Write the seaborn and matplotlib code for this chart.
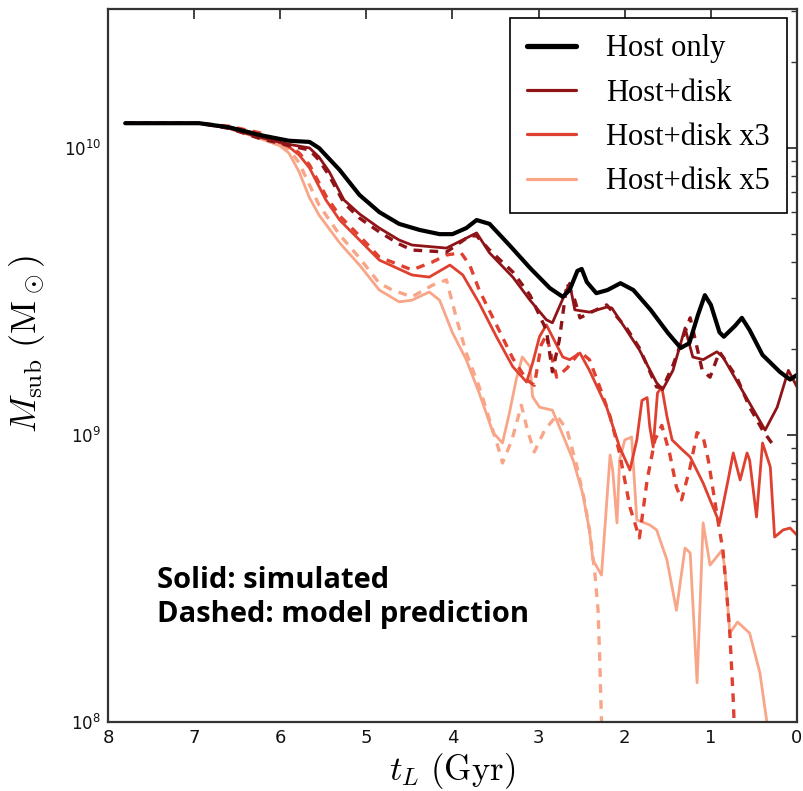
import numpy as np
import pandas as pd
import matplotlib
matplotlib.use("Agg")
import matplotlib.pyplot as plt
import seaborn as sns
from matplotlib.lines import Line2D

# ---- data (lookback time in Gyr, subhalo mass in 1e9 Msun) ----
t_host = [7.8, 6.94, 6.59, 6.24, 5.90, 5.66, 5.55, 5.31, 5.08, 4.85, 4.62, 4.38, 4.15, 4.00, 3.84,
          3.72, 3.57, 3.34, 3.10, 2.87, 2.72, 2.64, 2.55, 2.50, 2.44, 2.33, 2.20, 2.05, 1.90, 1.70,
          1.50, 1.35, 1.25, 1.15, 1.07, 1.00, 0.90, 0.85, 0.72, 0.64, 0.55, 0.40, 0.20, 0.08, 0.0]
m_host = [12.2, 12.2, 11.8, 11.1, 10.6, 10.5, 10.0, 8.38, 6.86, 5.98, 5.44, 5.18, 5.01, 5.01, 5.26,
          5.61, 5.44, 4.59, 3.82, 3.25, 3.03, 3.20, 3.73, 3.79, 3.41, 3.12, 3.20, 3.38, 3.20, 2.73,
          2.27, 2.01, 2.09, 2.62, 3.07, 2.84, 2.28, 2.20, 2.40, 2.56, 2.32, 1.90, 1.66, 1.56, 1.62]

t_disk = [7.8, 6.94, 6.59, 6.24, 5.90, 5.66, 5.55, 5.43, 5.26, 5.08, 4.85, 4.62, 4.47, 4.07, 3.72,
          3.57, 3.30, 3.10, 2.91, 2.84, 2.64, 2.58, 2.41, 2.21, 2.15, 1.98, 1.83, 1.63, 1.56, 1.44,
          1.30, 1.21, 1.09, 0.93, 0.86, 0.55, 0.37, 0.23, 0.10, 0.0]
m_disk = [12.2, 12.2, 11.7, 10.9, 10.3, 10.0, 9.30, 8.25, 6.59, 5.89, 5.26, 4.78, 4.59, 4.48, 5.06,
          4.31, 3.55, 2.95, 2.52, 2.46, 3.38, 2.73, 2.68, 2.79, 2.77, 2.32, 1.98, 1.52, 1.44, 1.68,
          2.36, 1.87, 1.83, 1.95, 1.87, 1.29, 1.04, 1.25, 1.68, 1.47]
t_disk_m = [7.8, 6.94, 6.59, 6.24, 5.90, 5.66, 5.55, 5.43, 5.26, 5.08, 4.85, 4.62, 4.47, 4.07, 3.80,
            3.72, 3.57, 3.30, 3.10, 2.91, 2.84, 2.76, 2.67, 2.58, 2.52, 2.41, 2.21, 1.98, 1.83, 1.63,
            1.56, 1.44, 1.24, 1.10, 1.01, 0.90, 0.70, 0.55, 0.40, 0.26]
m_disk_m = [12.2, 12.2, 11.7, 10.8, 10.2, 9.84, 9.08, 7.99, 6.43, 5.70, 5.10, 4.63, 4.41, 4.34, 4.94,
            4.94, 4.41, 3.70, 3.07, 2.32, 1.66, 2.14, 3.38, 2.95, 2.56, 2.66, 2.84, 2.36, 2.01, 1.47,
            1.46, 1.75, 2.56, 1.68, 1.59, 1.95, 1.59, 1.25, 1.04, 0.908]

t_x3 = [7.8, 6.94, 6.59, 6.24, 5.90, 5.78, 5.66, 5.47, 5.31, 5.08, 4.85, 4.47, 4.27, 4.03, 3.88,
        3.69, 3.49, 3.30, 3.14, 3.07, 2.99, 2.91, 2.72, 2.64, 2.52, 2.41, 2.21, 2.06, 1.94, 1.86,
        1.80, 1.74, 1.71, 1.67, 1.62, 1.57, 1.51, 1.45, 1.33, 1.24, 1.09, 0.90, 0.80, 0.74, 0.66,
        0.58, 0.55, 0.47, 0.40, 0.31, 0.26, 0.16, 0.08, 0.0]
m_x3 = [12.2, 12.2, 11.8, 11.2, 10.1, 9.45, 8.52, 6.59, 5.61, 4.78, 4.07, 3.61, 3.55, 3.91, 3.61,
        2.88, 2.20, 1.73, 1.53, 1.78, 2.20, 2.42, 1.87, 1.83, 1.93, 1.68, 1.25, 0.908, 0.755, 0.961,
        1.32, 1.35, 1.07, 0.908, 1.40, 1.47, 1.16, 0.961, 0.887, 0.838, 0.680, 0.494, 0.697, 0.866, 0.697,
        0.866, 0.818, 0.518, 0.938, 0.774, 0.441, 0.467, 0.474, 0.448]
t_x3_m = [7.8, 6.94, 6.59, 6.24, 5.90, 5.78, 5.66, 5.47, 5.31, 5.08, 4.85, 4.47, 4.23, 4.07, 3.90,
          3.80, 3.69, 3.49, 3.30, 3.14, 3.05, 2.97, 2.91, 2.79, 2.67, 2.52, 2.41, 2.29, 2.17, 2.06,
          1.94, 1.83, 1.74, 1.65, 1.57, 1.48, 1.40, 1.34, 1.24, 1.16, 1.09, 1.03, 0.98, 0.92, 0.86,
          0.81, 0.78, 0.74, 0.72]
m_x3_m = [12.2, 12.2, 11.9, 11.3, 10.2, 9.61, 8.73, 6.81, 5.80, 4.94, 4.17, 3.76, 4.01, 4.24, 4.31,
          3.91, 3.20, 2.42, 1.85, 1.56, 1.49, 2.06, 2.23, 1.59, 1.71, 1.95, 1.83, 1.47, 1.16, 0.866,
          0.561, 0.438, 0.697, 0.961, 1.08, 0.866, 0.659, 0.594, 0.774, 1.02, 0.984, 0.818, 0.659, 0.506, 0.397,
          0.266, 0.204, 0.119, 0.083]

t_x5 = [7.8, 6.94, 6.59, 6.24, 6.01, 5.90, 5.78, 5.66, 5.55, 5.31, 5.08, 4.85, 4.62, 4.47, 4.27,
        4.15, 4.00, 3.84, 3.69, 3.53, 3.42, 3.34, 3.26, 3.19, 3.10, 3.07, 2.99, 2.84, 2.76, 2.60,
        2.49, 2.41, 2.37, 2.27, 2.17, 2.14, 2.09, 2.06, 2.00, 1.92, 1.86, 1.71, 1.63, 1.51, 1.40,
        1.30, 1.24, 1.16, 1.09, 1.01, 0.87, 0.84, 0.78, 0.69, 0.55, 0.43, 0.35, 0.31]
m_x5 = [12.2, 12.2, 11.7, 10.8, 10.2, 9.61, 8.25, 6.70, 5.84, 4.67, 3.91, 3.20, 2.91, 2.95, 3.15,
        2.95, 2.27, 1.83, 1.40, 1.02, 0.938, 1.19, 1.56, 1.87, 1.73, 1.36, 1.25, 1.22, 1.07, 0.818,
        0.628, 0.467, 0.367, 0.325, 0.852, 0.755, 0.494, 0.818, 0.961, 0.984, 0.506, 0.486, 0.467, 0.367, 0.245,
        0.404, 0.388, 0.137, 0.494, 0.352, 0.397, 0.347, 0.204, 0.223, 0.204, 0.148, 0.1, 0.083]
t_x5_m = [7.8, 6.94, 6.59, 6.24, 6.01, 5.90, 5.78, 5.66, 5.55, 5.31, 5.08, 4.85, 4.70, 4.47, 4.23,
          4.07, 3.95, 3.84, 3.69, 3.57, 3.45, 3.42, 3.31, 3.20, 3.13, 3.05, 2.93, 2.79, 2.67, 2.56,
          2.47, 2.41, 2.35, 2.31, 2.29, 2.27, 2.26]
m_x5_m = [12.2, 12.2, 11.8, 11.0, 10.4, 9.92, 8.87, 7.43, 6.33, 4.98, 4.14, 3.38, 3.20, 3.03, 3.33,
          3.47, 2.52, 1.93, 1.47, 1.13, 0.866, 0.799, 0.961, 1.27, 1.04, 0.873, 1.04, 1.17, 1.04, 0.786,
          0.594, 0.467, 0.338, 0.245, 0.164, 0.1, 0.083]

labels = ["Host only", "Host+disk", "Host+disk x3", "Host+disk x5"]
colors = ["#000000", "#8e1418", "#e0402f", "#f8a588"]
UNIT = 1e9

sns.set_style("white")
plt.rcParams["mathtext.fontset"] = "cm"
plt.rcParams["font.family"] = ["DejaVu Sans"]
plt.rcParams["text.color"] = "black"
plt.rcParams["axes.labelcolor"] = "black"

fig = plt.figure(figsize=(8.04, 7.91), dpi=100)
ax = fig.add_axes([108 / 804, 1 - 722 / 791, 689 / 804, 713 / 791])

series = [
    (t_x5, m_x5, t_x5_m, m_x5_m, colors[3], 2.0),
    (t_x3, m_x3, t_x3_m, m_x3_m, colors[2], 2.0),
    (t_disk, m_disk, t_disk_m, m_disk_m, colors[1], 2.0),
]
for ts, ms, td, md, c, lw in series:
    sns.lineplot(x=np.array(ts), y=np.array(ms) * UNIT, ax=ax, color=c, lw=lw,
                 estimator=None, sort=False)
    sns.lineplot(x=np.array(td), y=np.array(md) * UNIT, ax=ax, color=c, lw=lw + 0.4,
                 linestyle=(0, (2.6, 2.2)), estimator=None, sort=False)
sns.lineplot(x=np.array(t_host), y=np.array(m_host) * UNIT, ax=ax, color=colors[0], lw=3.0,
             estimator=None, sort=False)

ax.set_yscale("log")
ax.set_xlim(8, 0)
ax.set_ylim(1e8, 3.05e10)
ax.set_xticks([8, 7, 6, 5, 4, 3, 2, 1, 0])
ax.set_xticklabels(["8", "7", "6", "5", "4", "3", "2", "1", "0"])

for s in ax.spines.values():
    s.set_color("#333333")
    s.set_linewidth(1.6)
ax.tick_params(which="both", direction="in", top=True, right=True, colors="#333333",
               labelcolor="#111111")
ax.tick_params(which="major", length=7, width=1.3, labelsize=13, pad=5)
ax.tick_params(which="minor", length=4, width=1.0)
ax.tick_params(axis="y", which="major", labelsize=12)

ax.set_xlabel(r"$t_L\ ({\rm Gyr})$", fontsize=25, labelpad=3)
ax.set_ylabel(r"$M_{\rm sub}\ ({\rm M}_\odot)$", fontsize=26)
ax.yaxis.set_label_coords(-0.088, 0.53)

handles = [Line2D([], [], color=colors[0], lw=3.8)] + \
          [Line2D([], [], color=c, lw=2.3) for c in colors[1:]]
leg = ax.legend(handles, labels, loc="upper right", bbox_to_anchor=(0.985, 0.988),
                prop={"family": "Liberation Serif", "size": 22}, frameon=True, fancybox=False,
                edgecolor="black", framealpha=1, handlelength=1.6, handletextpad=1.0,
                labelspacing=0.5, borderpad=0.55, borderaxespad=0)
leg.get_frame().set_linewidth(1.2)

ax.text(0.071, 0.199, "Solid: simulated", transform=ax.transAxes, fontsize=21,
        fontweight="bold", family=["Open Sans", "DejaVu Sans"], va="center", ha="left")
ax.text(0.071, 0.151, "Dashed: model prediction", transform=ax.transAxes, fontsize=21,
        fontweight="bold", family=["Open Sans", "DejaVu Sans"], va="center", ha="left")

fig.savefig("out.png", dpi=100)
